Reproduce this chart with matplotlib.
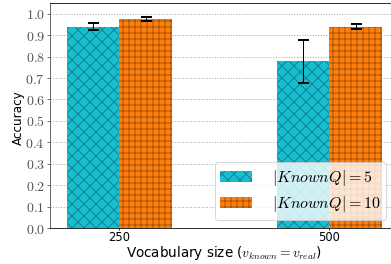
import matplotlib
matplotlib.use('Agg')
import matplotlib.pyplot as plt
import numpy as np
from matplotlib.ticker import FuncFormatter, MultipleLocator

plt.rcParams['mathtext.fontset'] = 'cm'

vocab = ['250', '500']
acc5 = [0.939, 0.778]
err5 = [0.017, 0.100]
acc10 = [0.977, 0.940]
err10 = [0.010, 0.012]

W, H, DPI = 391, 264, 72
fig = plt.figure(figsize=(W / DPI, H / DPI), dpi=DPI)
ax = fig.add_axes([50 / W, 36 / H, 348.6 / W, 225 / H])

x = np.arange(len(vocab))
w = 0.25
ekw = dict(elinewidth=1, capthick=2)
ax.bar(x - w / 2, acc5, w, yerr=err5, capsize=5.5, color='#17becf',
       edgecolor=(0, 0, 0, 0.3), linewidth=0, hatch='xx', error_kw=ekw,
       label=r'$|KnownQ| = 5$', zorder=2)
ax.bar(x + w / 2, acc10, w, yerr=err10, capsize=5.5, color='#ff7f0e',
       edgecolor=(0, 0, 0, 0.33), linewidth=0, hatch='++', error_kw=ekw,
       label=r'$|KnownQ| = 10$', zorder=2)

ax.set_xlim(-0.33, 1.33)
ax.set_ylim(0, 1.05)
ax.set_xticks(x)
ax.set_xticklabels(vocab, fontsize=11.5)
ax.yaxis.set_major_locator(MultipleLocator(0.1))
ax.yaxis.set_major_formatter(FuncFormatter(lambda v, p: r'$%.1f$' % v))
ax.tick_params(axis='y', labelsize=14, labelcolor='#555555', color='#555555',
               length=3, pad=2)
ax.tick_params(axis='x', length=2, pad=1)
ax.grid(axis='y', linestyle=':', color='#aaaaaa', linewidth=1, zorder=0)
ax.set_axisbelow(True)
ax.spines['left'].set_color('#444444')

ax.set_ylabel('Accuracy', fontsize=12)
ax.yaxis.set_label_coords(-0.072, 0.49)
ax.set_xlabel(r'Vocabulary size ($v_{known} = v_{real}$)', fontsize=13.5,
              labelpad=0)

ax.legend(loc='lower right', bbox_to_anchor=(386 / W, 44 / H),
          bbox_transform=fig.transFigure, borderaxespad=0, fontsize=16,
          handlelength=2, handletextpad=1.2, borderpad=0.35, labelspacing=0.4)

fig.savefig('out.png', dpi=DPI)
